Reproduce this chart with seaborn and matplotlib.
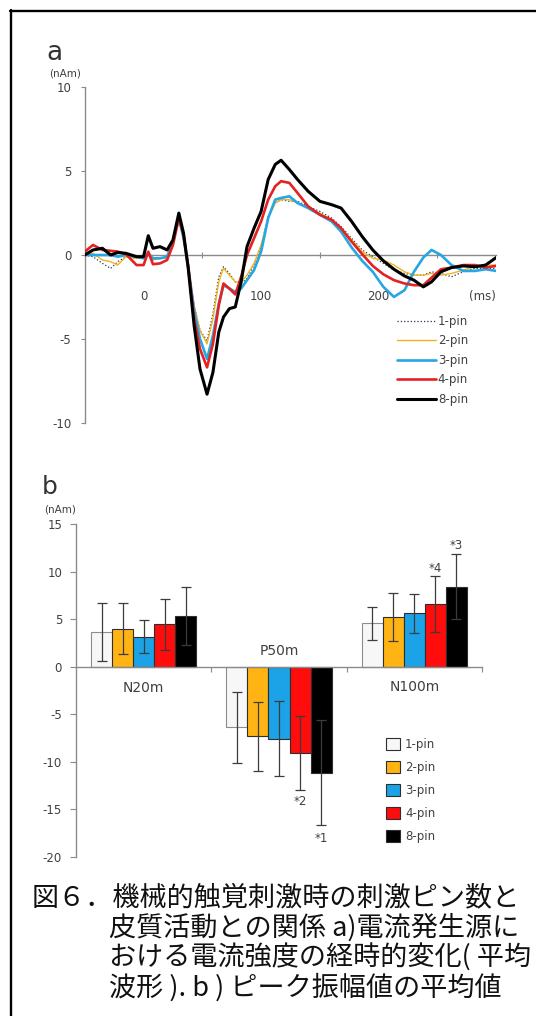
import matplotlib
matplotlib.use("Agg")
import matplotlib.pyplot as plt
import seaborn as sns
import numpy as np
import pandas as pd
from matplotlib.lines import Line2D
from matplotlib.patches import Patch

# ---------------- data: panel a (mean waveforms) ----------------
time_ms = [-50, -43, -35, -28, -22, -15, -6, 0, 4, 8, 14, 20, 25, 30, 34, 38, 43, 48, 54,
           59, 64, 68, 73, 78, 83, 88, 94, 100, 106, 112, 117, 124, 131, 140, 150, 160,
           168, 177, 186, 195, 204, 213, 222, 230, 238, 245, 253, 262, 272, 282, 291, 300]
wave_1pin = [0.0, -0.1, -0.5, -0.8, -0.4, -0.1, -0.2, -0.2, 0.0, -0.2, -0.2, -0.1, 0.8, 2.2,
             1.0, -0.7, -3.0, -4.5, -5.1, -3.5, -1.3, -0.7, -1.1, -1.6, -1.7, -1.4, -0.6,
             0.5, 2.3, 3.1, 3.3, 3.2, 3.2, 2.9, 2.6, 2.2, 1.7, 1.0, 0.3, -0.1, -0.5, -0.9,
             -1.1, -1.2, -1.2, -1.0, -1.1, -1.3, -1.0, -0.8, -0.8, -0.8]
wave_2pin = [0.1, 0.1, -0.3, -0.4, -0.6, -0.1, -0.2, -0.2, 0.0, -0.3, -0.2, -0.2, 0.7, 2.1,
             1.0, -0.7, -3.0, -4.5, -5.3, -3.8, -1.6, -0.8, -1.2, -1.6, -1.6, -1.2, -0.5,
             0.6, 2.2, 3.1, 3.3, 3.3, 3.1, 2.8, 2.5, 2.0, 1.6, 0.9, 0.2, -0.2, -0.3, -0.6,
             -1.0, -1.2, -1.2, -1.1, -1.2, -1.1, -0.9, -0.7, -0.6, -0.6]
wave_3pin = [0.0, 0.0, 0.0, 0.0, -0.1, 0.0, -0.1, -0.2, 0.1, -0.2, -0.2, -0.1, 0.8, 2.2,
             1.0, -0.7, -3.3, -5.0, -6.2, -4.8, -2.9, -1.8, -2.0, -2.2, -2.0, -1.5, -0.9,
             0.2, 2.2, 3.3, 3.4, 3.5, 3.1, 2.8, 2.4, 2.0, 1.4, 0.45, -0.35, -1.0, -1.9, -2.5,
             -2.1, -1.0, -0.15, 0.3, 0.0, -0.6, -0.95, -0.95, -0.85, -0.95]
wave_4pin = [0.2, 0.6, 0.3, 0.25, 0.2, 0.05, -0.6, -0.6, 0.2, -0.55, -0.5, -0.3, 0.6, 2.2,
             1.2, -0.7, -3.8, -5.6, -6.7, -5.3, -3.0, -1.7, -2.0, -2.35, -1.3, 0.0, 1.0,
             2.0, 3.3, 4.1, 4.4, 4.3, 3.7, 2.9, 2.4, 2.1, 1.6, 0.8, 0.05, -0.65, -1.15, -1.5,
             -1.7, -1.8, -1.8, -1.35, -0.85, -0.75, -0.6, -0.6, -0.75, -0.65]
wave_8pin = [0.0, 0.3, 0.4, 0.0, 0.15, 0.1, -0.1, -0.1, 1.15, 0.4, 0.5, 0.3, 0.9, 2.5,
             1.3, -0.8, -4.2, -6.8, -8.3, -7.0, -4.6, -3.7, -3.2, -3.1, -1.6, 0.5, 1.6,
             2.6, 4.5, 5.4, 5.65, 5.1, 4.5, 3.8, 3.2, 3.0, 2.8, 2.0, 1.1, 0.3, -0.35, -0.85,
             -1.25, -1.5, -1.9, -1.6, -1.0, -0.75, -0.65, -0.7, -0.6, -0.15]
pin_names = ["1-pin", "2-pin", "3-pin", "4-pin", "8-pin"]
a_yticks = [-10, -5, 0, 5, 10]
a_xlabels = [0, 100, 200]
a_xmarks = [50, 150, 250]

# ---------------- data: panel b (peak amplitudes) ----------------
components = ["N20m", "P50m", "N100m"]
mean_1pin = [3.6, -6.4, 4.55]
mean_2pin = [4.0, -7.35, 5.2]
mean_3pin = [3.15, -7.6, 5.6]
mean_4pin = [4.45, -9.1, 6.55]
mean_8pin = [5.35, -11.15, 8.4]
err_1pin = [3.05, 3.7, 1.75]
err_2pin = [2.65, 3.65, 2.5]
err_3pin = [1.7, 3.95, 2.05]
err_4pin = [2.7, 3.85, 2.95]
err_8pin = [3.05, 5.5, 3.4]
b_yticks = [-20, -15, -10, -5, 0, 5, 10, 15]
star_text = ["*1", "*2", "*3", "*4"]
star_comp = ["P50m", "P50m", "N100m", "N100m"]
star_pin = ["8-pin", "4-pin", "8-pin", "4-pin"]
star_y = [-18.05, -14.2, 12.7, 10.35]

caption_lines = ["図６．機械的触覚刺激時の刺激ピン数と",
                 "皮質活動との関係 a)電流発生源に",
                 "おける電流強度の経時的変化( 平均",
                 "波形 ). b ) ピーク振幅値の平均値"]

# ---------------- styling ----------------
sns.set_theme(style="white")
plt.rcParams["font.family"] = ["DejaVu Sans"]
plt.rcParams["axes.unicode_minus"] = False
TXT = "#404040"
AX = "#8a8a8a"

W, H = 536, 1016
fig = plt.figure(figsize=(W / 100, H / 100), dpi=100)
fig.patch.set_facecolor("white")

def fx(px):
    return px / W

def fy(py):
    return 1 - py / H

# frame lines (top and left)
fig.add_artist(Line2D([fx(10), 1.0], [fy(10.5), fy(10.5)], color="black", lw=1.7))
fig.add_artist(Line2D([fx(10.5), fx(10.5)], [fy(10), 0.0], color="black", lw=1.7))

# ---------------- panel a ----------------
ax_a = fig.add_axes([fx(84.8), fy(422.7), fx(496.2) - fx(84.8), fy(87.3) - fy(422.7)])
ax_a.set_facecolor("none")
waves = [wave_1pin, wave_2pin, wave_3pin, wave_4pin, wave_8pin]
colors_a = ["#2b3550", "#f2b320", "#26a6e2", "#e42222", "#000000"]
widths_a = [0.9, 1.0, 1.9, 1.9, 2.2]
styles_a = [":", "-", "-", "-", "-"]
draw_order = [2, 3, 1, 0, 4]
for i in draw_order:
    df = pd.DataFrame({"t": time_ms, "v": waves[i]})
    sns.lineplot(data=df, x="t", y="v", ax=ax_a, color=colors_a[i], lw=widths_a[i],
                 linestyle=styles_a[i], legend=False, zorder=3 + i)
ax_a.set_xlim(-50, 300)
ax_a.set_ylim(-10, 10)
ax_a.set_xlabel("")
ax_a.set_ylabel("")
for s in ["top", "right"]:
    ax_a.spines[s].set_visible(False)
ax_a.spines["bottom"].set_position(("data", 0))
ax_a.spines["bottom"].set_color(AX)
ax_a.spines["bottom"].set_linewidth(1.0)
ax_a.spines["left"].set_color(AX)
ax_a.spines["left"].set_linewidth(1.0)
ax_a.set_yticks(a_yticks)
ax_a.set_yticklabels([str(v) for v in a_yticks])
ax_a.tick_params(axis="y", direction="out", length=3, width=0.8, color=AX,
                 labelsize=8.5, labelcolor=TXT, pad=6.5, left=True)
ax_a.set_xticks(a_xlabels)
ax_a.set_xticklabels([str(v) for v in a_xlabels])
ax_a.set_xticks(a_xmarks, minor=True)
ax_a.tick_params(axis="x", which="major", length=0, labelsize=8.5, labelcolor=TXT, pad=25)
ax_a.tick_params(axis="x", which="minor", direction="inout", length=4, width=0.8,
                 color=AX, bottom=True)
ax_a.text(288.5, -2.48, "(ms)", ha="center", va="center", fontsize=8.5, color=TXT)

fig.text(fx(54.7), fy(53.3), "a", ha="center", va="center", fontsize=19, color="#333333")
fig.text(fx(65), fy(74), "(nAm)", ha="center", va="center", fontsize=7.5, color=TXT)

handles_a = [Line2D([0], [0], color=colors_a[i], lw=widths_a[i], linestyle=styles_a[i])
             for i in range(5)]
fig.legend(handles_a, pin_names, loc="upper left", bbox_to_anchor=(fx(396.6), fy(314.8)),
           frameon=False, fontsize=8.5, handlelength=3.34, handletextpad=0.15,
           labelspacing=0.55, borderpad=0, borderaxespad=0, labelcolor=TXT)

# ---------------- panel b ----------------
ax_b = fig.add_axes([fx(76), fy(856.7), fx(482) - fx(76), fy(524) - fy(856.7)])
ax_b.set_facecolor("none")
means = [mean_1pin, mean_2pin, mean_3pin, mean_4pin, mean_8pin]
errs = [err_1pin, err_2pin, err_3pin, err_4pin, err_8pin]
rows = []
for p, m in zip(pin_names, means):
    for c, v in zip(components, m):
        rows.append({"comp": c, "pin": p, "val": v})
dfb = pd.DataFrame(rows)
colors_b = ["#f7f7f7", "#ffb414", "#1ca2e6", "#ff0d0d", "#000000"]
sns.barplot(data=dfb, x="comp", y="val", hue="pin", order=components, hue_order=pin_names,
            palette=colors_b, saturation=1, width=0.776, errorbar=None,
            edgecolor="#2e2e2e", linewidth=0.8, ax=ax_b, legend=False, zorder=2)
nb = len(pin_names)
bw = 0.776 / nb
bar_x = {}
for patch in ax_b.patches:
    xc = patch.get_x() + patch.get_width() / 2
    ci = int(round(xc))
    hi = int(round((xc - ci) / bw + (nb - 1) / 2))
    bar_x[(components[ci], pin_names[hi])] = xc
    if hi == 0:
        patch.set_edgecolor("#8c8c8c")
for hi, p in enumerate(pin_names):
    xs = [bar_x[(c, p)] for c in components]
    ax_b.errorbar(xs, means[hi], yerr=errs[hi], fmt="none", ecolor="#3c3c3c",
                  elinewidth=0.9, capsize=3.3, capthick=0.9, zorder=4)
for t, c, p, y in zip(star_text, star_comp, star_pin, star_y):
    ax_b.text(bar_x[(c, p)], y, t, ha="center", va="center", fontsize=8.5, color=TXT)

ax_b.set_xlim(-0.5, 2.5)
ax_b.set_ylim(-20, 15)
ax_b.set_xlabel("")
ax_b.set_ylabel("")
for s in ["top", "right"]:
    ax_b.spines[s].set_visible(False)
ax_b.spines["bottom"].set_position(("data", 0))
ax_b.spines["bottom"].set_color(AX)
ax_b.spines["bottom"].set_linewidth(1.0)
ax_b.spines["bottom"].set_zorder(5)
ax_b.spines["left"].set_color(AX)
ax_b.spines["left"].set_linewidth(1.0)
ax_b.set_yticks(b_yticks)
ax_b.set_yticklabels([str(v) for v in b_yticks])
ax_b.tick_params(axis="y", direction="out", length=4, width=0.8, color=AX,
                 labelsize=8.5, labelcolor=TXT, pad=6, left=True)
ax_b.set_xticks([0.5, 1.5, 2.5])
ax_b.set_xticklabels([])
ax_b.tick_params(axis="x", direction="out", length=3.5, width=0.8, color=AX, bottom=True)
comp_label_y = [-2.28, 1.59, -2.1]
for i, (c, y) in enumerate(zip(components, comp_label_y)):
    ax_b.text(i, y, c, ha="center", va="center", fontsize=10, color=TXT)

fig.text(fx(49.6), fy(486.7), "b", ha="center", va="center", fontsize=18, color="#333333")
fig.text(fx(60), fy(509.3), "(nAm)", ha="center", va="center", fontsize=7.5, color=TXT)

handles_b = [Patch(facecolor=colors_b[i], edgecolor="#2e2e2e", lw=0.8) for i in range(5)]
fig.legend(handles_b, pin_names, loc="upper left", bbox_to_anchor=(fx(386), fy(738)),
           frameon=False, fontsize=8.5, handlelength=1.19, handleheight=1.19,
           handletextpad=0.42, labelspacing=0.85, borderpad=0, borderaxespad=0,
           labelcolor=TXT)

# ---------------- caption ----------------
cap_x = [32, 109, 109, 109]
cap_y = [898, 928, 958, 987]
for line, x, y in zip(caption_lines, cap_x, cap_y):
    fig.text(fx(x), fy(y), line, ha="left", va="center", fontsize=19.5, color="#111111",
             family=["Noto Sans CJK JP", "DejaVu Sans"])

fig.savefig("out.png", dpi=100, facecolor="white")
